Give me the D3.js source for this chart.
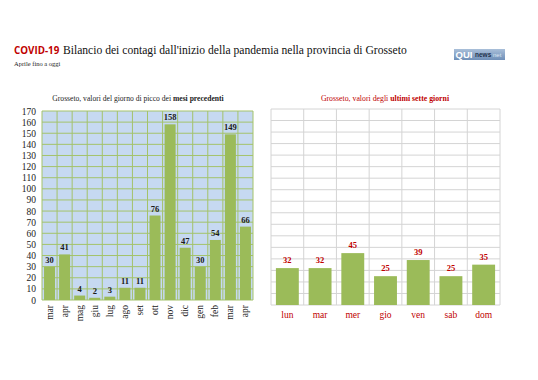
<!DOCTYPE html>
<html>
<head>
<meta charset="utf-8">
<script src="https://cdn.jsdelivr.net/npm/d3@7"></script>
<style>
  html, body { margin: 0; padding: 0; background: #fff; }
  svg { display: block; }
  .serif { font-family: "Liberation Serif", "DejaVu Serif", serif; }
</style>
</head>
<body>
<svg id="chart" width="538" height="380"></svg>
<script>
// months of the previous-period chart (peak day of each month)
const months = ["mar", "apr", "mag", "giu", "lug", "ago", "set", "ott", "nov", "dic", "gen", "feb", "mar", "apr"];
const monthValues = [30, 41, 4, 2, 3, 11, 11, 76, 158, 47, 30, 54, 149, 66];

// last seven days
const days = ["lun", "mar", "mer", "gio", "ven", "sab", "dom"];
const dayValues = [32, 32, 45, 25, 39, 25, 35];

const yTicks = d3.range(0, 171, 10);

const barColor = "#9bbb59";
const red = "#c00000";

const svg = d3.select("#chart");

// header
svg.append("text")
  .attr("x", 14)
  .attr("y", 54)
  .attr("font-family", "'Open Sans', 'Liberation Sans', sans-serif")
  .attr("font-weight", "bold")
  .attr("font-size", 9.8)
  .attr("fill", red)
  .text("COVID-19");

svg.append("text")
  .attr("class", "serif")
  .attr("x", 63)
  .attr("y", 54)
  .attr("font-size", 11.6)
  .attr("fill", "#111")
  .text("Bilancio dei contagi dall'inizio della pandemia nella provincia di Grosseto");

svg.append("text")
  .attr("class", "serif")
  .attr("x", 14)
  .attr("y", 66)
  .attr("font-size", 6.5)
  .attr("fill", "#222")
  .text("Aprile fino a oggi");

// logo
const logo = svg.append("g").attr("transform", "translate(454,49)");
const grad = svg.append("defs").append("linearGradient")
  .attr("id", "logoGrad").attr("x1", 0).attr("y1", 0).attr("x2", 0).attr("y2", 1);
grad.append("stop").attr("offset", "0%").attr("stop-color", "#a9bfd9");
grad.append("stop").attr("offset", "100%").attr("stop-color", "#6f8fb8");
logo.append("rect")
  .attr("width", 51).attr("height", 11)
  .attr("fill", "url(#logoGrad)");
logo.append("text")
  .attr("x", 1.5).attr("y", 9.3)
  .attr("font-family", "'Liberation Sans', sans-serif")
  .attr("font-weight", "bold").attr("font-size", 9.5)
  .attr("fill", "#fff")
  .text("QUI");
logo.append("text")
  .attr("x", 21).attr("y", 8.3)
  .attr("font-family", "'Liberation Sans', sans-serif")
  .attr("font-weight", "bold").attr("font-size", 6.5)
  .attr("fill", "#23324a")
  .text("news");
logo.append("text")
  .attr("x", 39).attr("y", 8.3)
  .attr("font-family", "'Liberation Sans', sans-serif")
  .attr("font-size", 6)
  .attr("fill", "#dde6f2")
  .text("net");

// ---------- left chart: previous months ----------
const left = { x0: 42, x1: 253, top: 111, bottom: 300 };

const xL = d3.scaleBand()
  .domain(d3.range(months.length))
  .range([left.x0, left.x1])
  .paddingInner(0.27)
  .paddingOuter(0.135);

const yL = d3.scaleLinear()
  .domain([0, 170])
  .range([left.bottom, left.top]);

const gL = svg.append("g");

gL.append("rect")
  .attr("x", left.x0).attr("y", left.top)
  .attr("width", left.x1 - left.x0).attr("height", left.bottom - left.top)
  .attr("fill", "#c6d9f1");

const gridL = "#a4c36a";
gL.selectAll(".hgrid")
  .data(yTicks)
  .enter().append("line")
  .attr("x1", left.x0).attr("x2", left.x1)
  .attr("y1", d => yL(d)).attr("y2", d => yL(d))
  .attr("stroke", gridL).attr("stroke-width", 1);

gL.selectAll(".vgrid")
  .data(d3.range(months.length + 1))
  .enter().append("line")
  .attr("x1", i => left.x0 + i * xL.step()).attr("x2", i => left.x0 + i * xL.step())
  .attr("y1", left.top).attr("y2", left.bottom)
  .attr("stroke", gridL).attr("stroke-width", 1);

gL.append("g")
  .attr("transform", `translate(${left.x0},0)`)
  .call(d3.axisLeft(yL).tickValues(yTicks).tickSize(0).tickPadding(6))
  .call(g => g.select(".domain").remove())
  .call(g => g.selectAll("text")
    .attr("class", "serif")
    .attr("font-size", 9.5)
    .attr("fill", "#222"));

gL.selectAll(".bar")
  .data(monthValues)
  .enter().append("rect")
  .attr("x", (d, i) => xL(i))
  .attr("y", d => yL(d))
  .attr("width", xL.bandwidth())
  .attr("height", d => yL(0) - yL(d))
  .attr("fill", barColor);

gL.selectAll(".val")
  .data(monthValues)
  .enter().append("text")
  .attr("class", "serif")
  .attr("x", (d, i) => xL(i) + xL.bandwidth() / 2)
  .attr("y", d => yL(d) - 4)
  .attr("text-anchor", "middle")
  .attr("font-size", 8.5)
  .attr("font-weight", "bold")
  .attr("fill", "#1a1a1a")
  .text(d => d);

gL.selectAll(".mlab")
  .data(months)
  .enter().append("text")
  .attr("class", "serif")
  .attr("transform", (d, i) => `translate(${xL(i) + xL.bandwidth() / 2 + 3},${left.bottom + 5}) rotate(-90)`)
  .attr("text-anchor", "end")
  .attr("font-size", 9.5)
  .attr("fill", "#222")
  .text(d => d);

const tL = svg.append("text")
  .attr("class", "serif")
  .attr("x", 138).attr("y", 101)
  .attr("text-anchor", "middle")
  .attr("font-size", 7.6)
  .attr("fill", "#222");
tL.append("tspan").text("Grosseto, valori del giorno di picco dei ");
tL.append("tspan").attr("font-weight", "bold").text("mesi precedenti");

// ---------- right chart: last seven days ----------
const right = { x0: 271, x1: 500, top: 109, bottom: 305 };

const xR = d3.scaleBand()
  .domain(d3.range(days.length))
  .range([right.x0, right.x1])
  .paddingInner(0.3)
  .paddingOuter(0.15);

const yR = d3.scaleLinear()
  .domain([0, 170])
  .range([right.bottom, right.top]);

const gR = svg.append("g");

const gridR = "#d4d4d4";
gR.selectAll(".hgrid")
  .data(yTicks)
  .enter().append("line")
  .attr("x1", right.x0).attr("x2", right.x1)
  .attr("y1", d => yR(d)).attr("y2", d => yR(d))
  .attr("stroke", gridR).attr("stroke-width", 1);

gR.selectAll(".vgrid")
  .data(d3.range(days.length + 1))
  .enter().append("line")
  .attr("x1", i => right.x0 + i * xR.step()).attr("x2", i => right.x0 + i * xR.step())
  .attr("y1", right.top).attr("y2", right.bottom)
  .attr("stroke", gridR).attr("stroke-width", 1);

gR.selectAll(".bar")
  .data(dayValues)
  .enter().append("rect")
  .attr("x", (d, i) => xR(i))
  .attr("y", d => yR(d))
  .attr("width", xR.bandwidth())
  .attr("height", d => yR(0) - yR(d))
  .attr("fill", barColor);

gR.selectAll(".val")
  .data(dayValues)
  .enter().append("text")
  .attr("class", "serif")
  .attr("x", (d, i) => xR(i) + xR.bandwidth() / 2)
  .attr("y", d => yR(d) - 5)
  .attr("text-anchor", "middle")
  .attr("font-size", 8.5)
  .attr("font-weight", "bold")
  .attr("fill", red)
  .text(d => d);

gR.append("g")
  .attr("transform", `translate(0,${right.bottom})`)
  .call(d3.axisBottom(xR).tickFormat(i => days[i]).tickSize(0).tickPadding(6))
  .call(g => g.select(".domain").remove())
  .call(g => g.selectAll("text")
    .attr("class", "serif")
    .attr("font-size", 9.5)
    .attr("fill", red));

const tR = svg.append("text")
  .attr("class", "serif")
  .attr("x", 385).attr("y", 101)
  .attr("text-anchor", "middle")
  .attr("font-size", 7.8)
  .attr("fill", red);
tR.append("tspan").text("Grosseto, valori degli ");
tR.append("tspan").attr("font-weight", "bold").text("ultimi sette giorni");
</script>
</body>
</html>
